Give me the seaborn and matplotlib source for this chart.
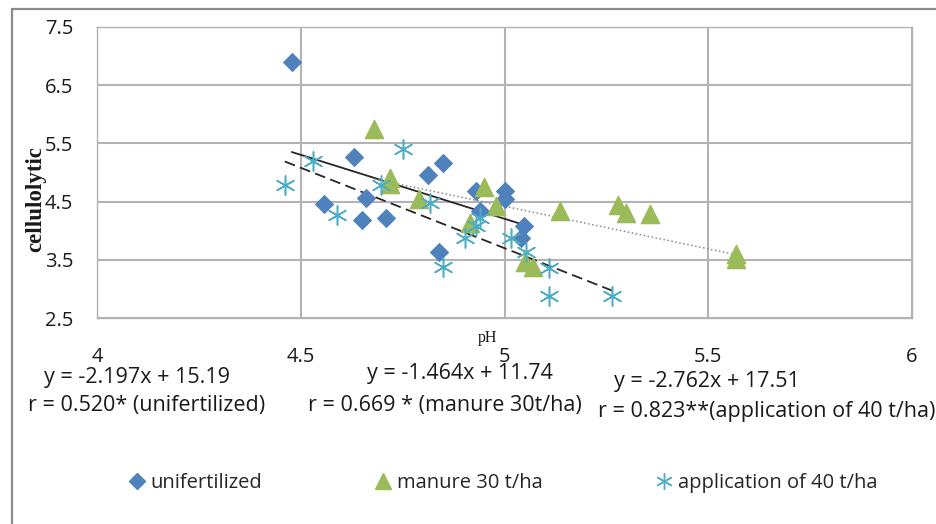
import numpy as np
import pandas as pd
import matplotlib.pyplot as plt
from matplotlib.lines import Line2D
from matplotlib.patches import Rectangle
import seaborn as sns

# Data
unfert_ph = [4.478, 4.630, 4.850, 4.812, 4.557, 4.659, 4.650, 4.710, 4.930, 5.000, 5.000, 4.939, 5.048, 5.041, 4.839]
unfert_cell = [6.90, 5.27, 5.16, 4.95, 4.46, 4.57, 4.18, 4.21, 4.68, 4.68, 4.55, 4.34, 4.08, 3.87, 3.63]

manure_ph = [4.680, 4.720, 4.720, 4.790, 4.950, 4.980, 4.915, 5.050, 5.069, 5.135, 5.278, 5.298, 5.358, 5.568, 5.568]
manure_cell = [5.75, 4.90, 4.80, 4.54, 4.75, 4.43, 4.13, 3.46, 3.37, 4.33, 4.45, 4.31, 4.28, 3.60, 3.52]

appl_ph = [4.461, 4.530, 4.589, 4.751, 4.698, 4.816, 4.849, 4.902, 4.940, 4.930, 5.016, 5.052, 5.110, 5.110, 5.265]
appl_cell = [4.79, 5.19, 4.27, 5.40, 4.79, 4.48, 3.38, 3.88, 4.22, 4.08, 3.88, 3.64, 3.36, 2.88, 2.88]

series_names = ["unifertilized", "manure 30 t/ha", "application of 40 t/ha"]
slopes = [-2.197, -1.464, -2.762]
intercepts = [15.19, 11.74, 17.51]
eq_labels = ["y = -2.197x + 15.19", "y = -1.464x + 11.74", "y = -2.762x + 17.51"]
r_labels = ["r = 0.520* (unifertilized)", "r = 0.669 * (manure 30t/ha)", "r = 0.823**(application of 40 t/ha)"]

x_ticks = [4, 4.5, 5, 5.5, 6]
x_tick_labels = ["4", "4.5", "5", "5.5", "6"]
y_ticks = [2.5, 3.5, 4.5, 5.5, 6.5, 7.5]
y_tick_labels = ["2.5", "3.5", "4.5", "5.5", "6.5", "7.5"]

df = pd.DataFrame({
    "pH": unfert_ph + manure_ph + appl_ph,
    "cellulolytic": unfert_cell + manure_cell + appl_cell,
    "treatment": [series_names[0]] * len(unfert_ph) + [series_names[1]] * len(manure_ph)
                 + [series_names[2]] * len(appl_ph),
})

colors = {"unifertilized": "#4F81BD", "manure 30 t/ha": "#9BBB59", "application of 40 t/ha": "#4BACC6"}

sns.set_theme(style="white")
plt.rcParams["font.family"] = ["Open Sans", "DejaVu Sans"]

fig = plt.figure(figsize=(9.37, 5.24), dpi=100)
ax = fig.add_axes([97 / 937, 1 - 318 / 524, 815 / 937, 291 / 524])

# Trend lines (drawn under the markers)
line_styles = [dict(color="#262626", linestyle="-", linewidth=1.3),
               dict(color="#8a8a8a", linestyle=":", linewidth=1.1),
               dict(color="#262626", linestyle=(0, (6, 3)), linewidth=1.3)]
for name, k, b, st in zip(series_names, slopes, intercepts, line_styles):
    sub = df[df["treatment"] == name]
    xs = np.array([sub["pH"].min(), sub["pH"].max()])
    sns.lineplot(x=xs, y=k * xs + b, ax=ax, zorder=2, **st)

# Points
sub = df[df["treatment"] == series_names[0]]
sns.scatterplot(data=sub, x="pH", y="cellulolytic", marker="D", s=84,
                color=colors[series_names[0]], edgecolor=colors[series_names[0]], ax=ax, zorder=3)
sub = df[df["treatment"] == series_names[1]]
sns.scatterplot(data=sub, x="pH", y="cellulolytic", marker="^", s=170,
                color=colors[series_names[1]], edgecolor=colors[series_names[1]], ax=ax, zorder=3)
sub = df[df["treatment"] == series_names[2]]
sns.scatterplot(data=sub, x="pH", y="cellulolytic", marker=(6, 2, 0), s=190,
                color=colors[series_names[2]], linewidth=1.1, ax=ax, zorder=3)

# Axes
ax.set_xlim(4, 6)
ax.set_ylim(2.5, 7.5)
ax.set_xticks(x_ticks)
ax.set_xticklabels(x_tick_labels)
ax.set_yticks(y_ticks)
ax.set_yticklabels(y_tick_labels)
ax.tick_params(axis="both", length=0, labelsize=14.5, colors="#1a1a1a")
ax.tick_params(axis="x", pad=21)
ax.tick_params(axis="y", pad=17)
ax.grid(True, color="#b3b3b3", linewidth=1.5)
for sp in ax.spines.values():
    sp.set_color("#b3b3b3")
    sp.set_linewidth(1.0)

ax.set_xlabel("pH", family="Liberation Serif", fontsize=11.5, color="#1a1a1a")
ax.xaxis.set_label_coords((488 - 97) / 815, -0.04)
ax.set_ylabel("cellulolytic", family="Liberation Serif", fontweight="bold", fontsize=16.5, color="#1a1a1a")
ax.yaxis.set_label_coords(-0.062, 0.41)

# Equation annotations below the plot
eq_pos = [(137, 378), (460, 374), (707, 381)]
r_pos = [(147, 406), (445, 405), (767, 411)]
for txt, (px, py) in zip(eq_labels, eq_pos):
    fig.text(px / 937, 1 - py / 524, txt, ha="center", va="center", fontsize=15.5, color="#1a1a1a")
for txt, (px, py) in zip(r_labels, r_pos):
    fig.text(px / 937, 1 - py / 524, txt, ha="center", va="center", fontsize=15.5, color="#1a1a1a")

# Legend
handles = [Line2D([0], [0], marker="D", linestyle="none", markersize=8, color=colors[series_names[0]]),
           Line2D([0], [0], marker="^", linestyle="none", markersize=11, color=colors[series_names[1]]),
           Line2D([0], [0], marker=(6, 2, 0), linestyle="none", markersize=12, markeredgewidth=1.0,
                  color=colors[series_names[2]])]
fig.legend(handles, series_names, loc="center", bbox_to_anchor=(503 / 937, 1 - 483 / 524), ncol=3,
           frameon=False, fontsize=14.5, handlelength=0.8, handletextpad=0.3, columnspacing=5.6)

# Outer chart frame
fig.add_artist(Rectangle((12 / 937, -0.5), 1.5, 0.5 + 1 - 9 / 524, transform=fig.transFigure,
                         fill=False, edgecolor="#8c8c8c", linewidth=1.6))

fig.savefig("out.png", dpi=100)
